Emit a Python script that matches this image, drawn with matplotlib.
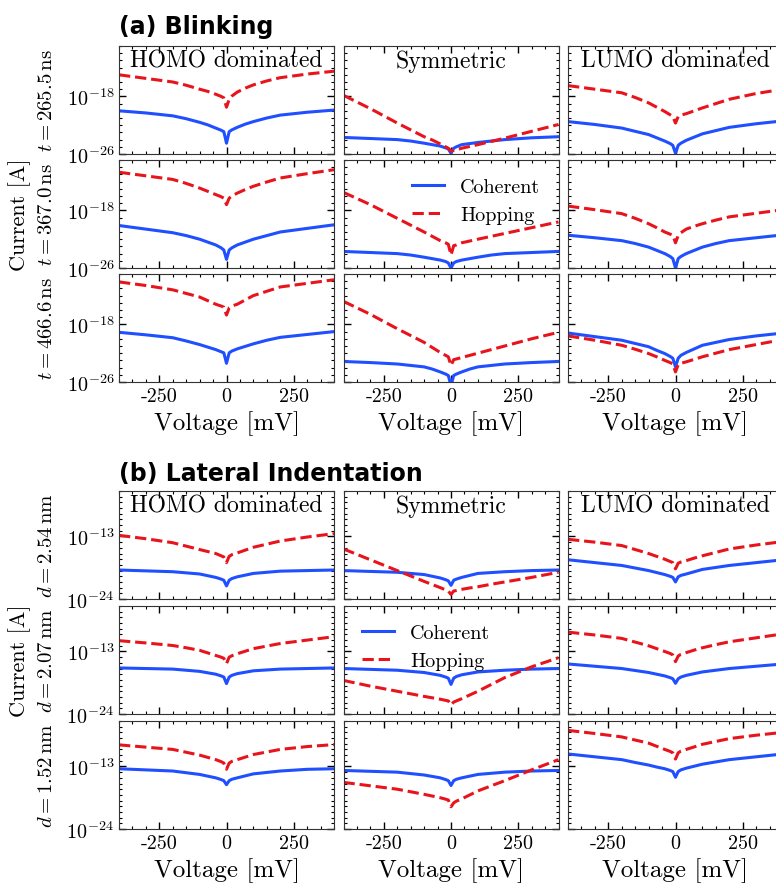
import numpy as np
import matplotlib
matplotlib.use("Agg")
import matplotlib.pyplot as plt
from matplotlib.ticker import FixedLocator, LogFormatterMathtext, NullFormatter, MultipleLocator

# voltage samples [mV] and log10(current [A])
voltage = [-400, -300, -200, -150, -100, -70, -40, -20, -10, 0,
           10, 20, 40, 70, 100, 150, 200, 300, 400]

# (a) Blinking, t = 265.5 ns
b265_homo_coh = [-20.0, -20.3, -20.7, -21.1, -21.6, -21.95, -22.4, -22.7, -22.9, -24.5,
                 -22.9, -22.65, -22.3, -21.85, -21.5, -21.0, -20.6, -20.2, -19.9]
b265_homo_hop = [-15.0, -15.5, -16.0, -16.45, -17.0, -17.3, -17.7, -18.0, -18.2, -19.5,
                 -18.4, -17.95, -17.4, -16.85, -16.4, -15.85, -15.4, -14.9, -14.5]
b265_sym_coh = [-23.7, -23.85, -24.0, -24.2, -24.5, -24.7, -24.9, -25.15, -25.3, -25.9,
                -25.2, -25.0, -24.7, -24.55, -24.4, -24.2, -24.0, -23.75, -23.6]
b265_sym_hop = [-17.85, -19.7, -21.7, -22.65, -23.6, -24.05, -24.6, -25.0, -25.2, -25.6,
                -25.5, -25.4, -25.2, -24.95, -24.7, -24.25, -23.8, -22.85, -21.9]
b265_lumo_coh = [-21.5, -21.9, -22.4, -22.85, -23.3, -23.75, -24.2, -24.55, -24.8, -25.9,
                 -24.8, -24.5, -24.1, -23.65, -23.2, -22.75, -22.3, -21.8, -21.4]
b265_lumo_hop = [-16.5, -17.0, -17.5, -18.15, -18.9, -19.5, -20.1, -20.55, -20.8, -21.7,
                 -20.8, -20.6, -20.4, -20.0, -19.6, -19.0, -18.4, -17.6, -17.0]

# t = 367.0 ns
b367_homo_coh = [-20.1, -20.6, -21.1, -21.5, -22.0, -22.4, -22.8, -23.2, -23.5, -24.8,
                 -23.5, -23.2, -22.8, -22.4, -22.0, -21.5, -21.0, -20.5, -20.0]
b367_homo_hop = [-12.7, -13.2, -13.7, -14.25, -14.9, -15.35, -15.8, -16.1, -16.3, -17.2,
                 -16.3, -16.0, -15.6, -15.1, -14.65, -14.05, -13.5, -12.9, -12.35]
b367_sym_coh = [-23.7, -23.85, -24.0, -24.2, -24.5, -24.7, -24.9, -25.1, -25.3, -26.0,
                -25.3, -25.1, -24.9, -24.7, -24.5, -24.2, -24.0, -23.85, -23.7]
b367_sym_hop = [-15.5, -17.2, -19.1, -20.05, -21.0, -21.6, -22.2, -22.5, -22.7, -24.2,
                -22.9, -22.8, -22.5, -22.25, -22.0, -21.6, -21.2, -20.4, -19.6]
b367_lumo_coh = [-21.45, -21.8, -22.2, -22.6, -23.1, -23.55, -24.0, -24.4, -24.7, -26.0,
                 -24.7, -24.4, -24.0, -23.55, -23.1, -22.6, -22.2, -21.8, -21.4]
b367_lumo_hop = [-17.4, -17.9, -18.45, -19.1, -19.85, -20.4, -21.0, -21.3, -21.45, -22.5,
                 -21.5, -21.1, -20.6, -20.2, -19.85, -19.35, -18.9, -18.4, -17.9]

# t = 466.6 ns
b466_homo_coh = [-19.1, -19.45, -19.85, -20.3, -20.8, -21.15, -21.5, -21.8, -21.95, -23.4,
                 -21.95, -21.7, -21.4, -21.05, -20.7, -20.2, -19.8, -19.4, -19.0]
b466_homo_hop = [-12.1, -12.6, -13.2, -13.7, -14.2, -14.7, -15.2, -15.45, -15.6, -16.7,
                 -15.7, -15.45, -15.2, -14.6, -14.0, -13.4, -12.8, -12.3, -11.8]
b466_sym_coh = [-23.15, -23.3, -23.5, -23.7, -23.9, -24.2, -24.6, -24.9, -25.1, -26.5,
                -25.1, -24.9, -24.6, -24.2, -23.9, -23.7, -23.5, -23.3, -23.15]
b466_sym_hop = [-14.8, -16.6, -18.6, -19.55, -20.5, -21.2, -21.9, -22.3, -22.5, -23.7,
                -22.9, -22.8, -22.6, -22.3, -22.0, -21.5, -21.0, -20.0, -19.1]
b466_lumo_coh = [-19.2, -19.7, -20.2, -20.65, -21.1, -21.6, -22.05, -22.45, -22.7, -23.9,
                 -22.7, -22.3, -21.9, -21.4, -20.9, -20.5, -20.1, -19.6, -19.2]
b466_lumo_hop = [-19.6, -20.2, -20.9, -21.45, -22.05, -22.5, -23.0, -23.3, -23.5, -24.6,
                 -23.6, -23.4, -23.2, -22.85, -22.5, -22.0, -21.5, -20.8, -20.1]

# (b) Lateral indentation, d = 2.54 nm
d254_homo_coh = [-18.9, -19.05, -19.2, -19.4, -19.6, -19.9, -20.2, -20.5, -20.7, -21.7,
                 -20.7, -20.4, -20.1, -19.8, -19.5, -19.3, -19.1, -19.0, -18.9]
d254_homo_hop = [-12.8, -13.4, -14.1, -14.7, -15.3, -15.65, -16.0, -16.4, -16.6, -17.6,
                 -16.5, -16.2, -15.9, -15.4, -14.9, -14.35, -13.8, -13.1, -12.5]
d254_sym_coh = [-19.0, -19.15, -19.3, -19.5, -19.7, -20.0, -20.3, -20.6, -20.8, -21.6,
                -20.7, -20.5, -20.2, -19.85, -19.5, -19.35, -19.2, -19.0, -18.9]
d254_sym_hop = [-15.2, -17.1, -19.0, -19.95, -20.9, -21.45, -22.0, -22.4, -22.6, -23.2,
                -22.6, -22.5, -22.3, -22.05, -21.85, -21.4, -21.0, -20.2, -19.3]
d254_lumo_coh = [-17.1, -17.6, -18.1, -18.55, -19.0, -19.35, -19.7, -20.0, -20.2, -21.0,
                 -20.1, -19.85, -19.6, -19.2, -18.8, -18.45, -18.1, -17.6, -17.1]
d254_lumo_hop = [-13.5, -14.0, -14.6, -15.3, -16.0, -16.5, -17.0, -17.4, -17.6, -18.7,
                 -17.7, -17.5, -17.25, -16.8, -16.4, -15.8, -15.2, -14.5, -13.9]

# d = 2.07 nm
d207_homo_coh = [-15.9, -16.0, -16.1, -16.3, -16.5, -16.75, -17.0, -17.3, -17.5, -18.65,
                 -17.5, -17.2, -16.9, -16.65, -16.4, -16.25, -16.1, -16.0, -15.9]
d207_homo_hop = [-11.1, -11.5, -11.95, -12.35, -12.8, -13.25, -13.7, -14.0, -14.2, -15.15,
                 -14.0, -13.75, -13.4, -12.95, -12.5, -12.05, -11.6, -11.0, -10.4]
d207_sym_coh = [-16.0, -16.15, -16.3, -16.5, -16.7, -16.95, -17.2, -17.5, -17.7, -18.8,
                -17.7, -17.4, -17.1, -16.85, -16.6, -16.45, -16.3, -16.1, -16.0]
d207_sym_hop = [-18.1, -19.1, -20.0, -20.45, -20.9, -21.15, -21.4, -21.6, -21.7, -22.4,
                -21.9, -21.7, -21.3, -20.65, -20.0, -18.8, -17.6, -15.7, -14.1]
d207_lumo_coh = [-15.2, -15.6, -16.0, -16.35, -16.7, -17.0, -17.3, -17.6, -17.8, -18.6,
                 -17.8, -17.5, -17.2, -16.9, -16.6, -16.3, -16.0, -15.6, -15.2]
d207_lumo_hop = [-9.6, -10.1, -10.7, -11.35, -12.0, -12.5, -13.0, -13.35, -13.6, -14.8,
                 -13.8, -13.5, -13.2, -12.75, -12.35, -11.8, -11.3, -10.6, -9.9]

# d = 1.52 nm
d152_homo_coh = [-13.4, -13.6, -13.8, -14.1, -14.4, -14.7, -15.0, -15.3, -15.5, -16.2,
                 -15.5, -15.25, -15.0, -14.65, -14.3, -14.05, -13.8, -13.5, -13.4]
d152_homo_hop = [-9.2, -9.6, -10.0, -10.5, -11.0, -11.4, -11.8, -12.15, -12.4, -13.5,
                 -12.4, -12.1, -11.8, -11.35, -10.9, -10.45, -10.0, -9.5, -9.15]
d152_sym_coh = [-13.7, -13.85, -14.0, -14.25, -14.5, -14.75, -15.0, -15.3, -15.5, -16.35,
                -15.5, -15.25, -15.0, -14.7, -14.4, -14.2, -14.0, -13.8, -13.7]
d152_sym_hop = [-15.8, -16.4, -17.0, -17.45, -17.9, -18.2, -18.5, -18.75, -18.9, -20.1,
                -19.4, -19.1, -18.7, -18.0, -17.3, -16.4, -15.5, -13.6, -11.8]
d152_lumo_coh = [-10.8, -11.3, -11.8, -12.3, -12.75, -13.1, -13.4, -13.7, -13.9, -14.9,
                 -13.9, -13.6, -13.3, -12.95, -12.6, -12.2, -11.8, -11.3, -10.8]
d152_lumo_hop = [-6.65, -7.2, -7.8, -8.35, -8.9, -9.45, -10.0, -10.35, -10.6, -11.7,
                 -10.6, -10.3, -10.0, -9.55, -9.1, -8.6, -8.1, -7.5, -7.0]

col_titles = ["HOMO dominated", "Symmetric", "LUMO dominated"]
blink_rows = [r"$t = 265.5\,\mathrm{ns}$", r"$t = 367.0\,\mathrm{ns}$", r"$t = 466.6\,\mathrm{ns}$"]
indent_rows = [r"$d = 2.54\,\mathrm{nm}$", r"$d = 2.07\,\mathrm{nm}$", r"$d = 1.52\,\mathrm{nm}$"]
xticks = [-250, 0, 250]
xtick_labels = ["-250", "0", "250"]
series_names = ["Coherent", "Hopping"]

blink_panels = [
    [(b265_homo_coh, b265_homo_hop), (b265_sym_coh, b265_sym_hop), (b265_lumo_coh, b265_lumo_hop)],
    [(b367_homo_coh, b367_homo_hop), (b367_sym_coh, b367_sym_hop), (b367_lumo_coh, b367_lumo_hop)],
    [(b466_homo_coh, b466_homo_hop), (b466_sym_coh, b466_sym_hop), (b466_lumo_coh, b466_lumo_hop)],
]
indent_panels = [
    [(d254_homo_coh, d254_homo_hop), (d254_sym_coh, d254_sym_hop), (d254_lumo_coh, d254_lumo_hop)],
    [(d207_homo_coh, d207_homo_hop), (d207_sym_coh, d207_sym_hop), (d207_lumo_coh, d207_lumo_hop)],
    [(d152_homo_coh, d152_homo_hop), (d152_sym_coh, d152_sym_hop), (d152_lumo_coh, d152_lumo_hop)],
]

plt.rcParams.update({
    "font.family": "serif",
    "font.serif": ["cmr10"],
    "mathtext.fontset": "cm",
    "axes.unicode_minus": False,
    "axes.formatter.use_mathtext": True,
    "xtick.direction": "in",
    "ytick.direction": "in",
    "xtick.top": True,
    "ytick.right": True,
    "axes.edgecolor": "#333333",
})

W, H = 776, 887
fig = plt.figure(figsize=(W / 100, H / 100), dpi=100)

BLUE = "#1f4fff"
RED = "#e8141c"
col_left = [119, 343.5, 568]
ax_w, ax_h = 215, 108


def draw_block(panels, tops, ylim, ymajor, row_labels, legend_loc, title, title_y):
    fig.text(119 / W, 1 - title_y / H, title, family="DejaVu Sans", fontweight="bold",
             fontsize=17, ha="left", va="center")
    for r in range(3):
        for c in range(3):
            ax = fig.add_axes([col_left[c] / W, 1 - (tops[r] + ax_h) / H, ax_w / W, ax_h / H])
            coh, hop = panels[r][c]
            ax.plot(voltage, np.power(10.0, coh), color=BLUE, lw=2.2, label=series_names[0])
            ax.plot(voltage, np.power(10.0, hop), "--", color=RED, lw=2.2, label=series_names[1])
            ax.set_yscale("log")
            ax.set_xlim(-400, 400)
            ax.set_ylim(10.0 ** ylim[0], 10.0 ** ylim[1])
            ax.yaxis.set_major_locator(FixedLocator([10.0 ** e for e in ymajor]))
            ax.yaxis.set_minor_locator(FixedLocator([10.0 ** e for e in range(ylim[0], ylim[1] + 1)]))
            ax.yaxis.set_minor_formatter(NullFormatter())
            ax.set_xticks(xticks)
            ax.xaxis.set_minor_locator(MultipleLocator(50))
            ax.tick_params(which="major", length=5, width=1, labelsize=14.5)
            ax.tick_params(which="minor", length=2.5, width=0.8)
            if c == 0:
                ax.yaxis.set_major_formatter(LogFormatterMathtext())
            else:
                ax.set_yticklabels([])
            if r == 2:
                ax.set_xticklabels(xtick_labels)
                ax.set_xlabel("Voltage [mV]", fontsize=18, labelpad=4)
            else:
                ax.set_xticklabels([])
            if r == 0:
                ax.text(0.5, 0.97, col_titles[c], transform=ax.transAxes, ha="center",
                        va="top", fontsize=17)
            if r == 1 and c == 1:
                ax.legend(loc=legend_loc, frameon=False, fontsize=14.5, handlelength=1.6)
        fig.text(47 / W, 1 - (tops[r] + ax_h / 2) / H, row_labels[r], rotation=90,
                 ha="center", va="center", fontsize=15)
    fig.text(20 / W, 1 - (tops[1] + ax_h / 2) / H, "Current [A]", rotation=90,
             ha="center", va="center", fontsize=16)


draw_block(blink_panels, [47, 161, 275], (-26, -11), [-26, -18, -10], blink_rows,
           "upper right", "(a) Blinking", 27)
draw_block(indent_panels, [492, 607, 722], (-24, -5), [-24, -13, -2], indent_rows,
           "upper left", "(b) Lateral Indentation", 474)

fig.savefig("out.png", dpi=100)
